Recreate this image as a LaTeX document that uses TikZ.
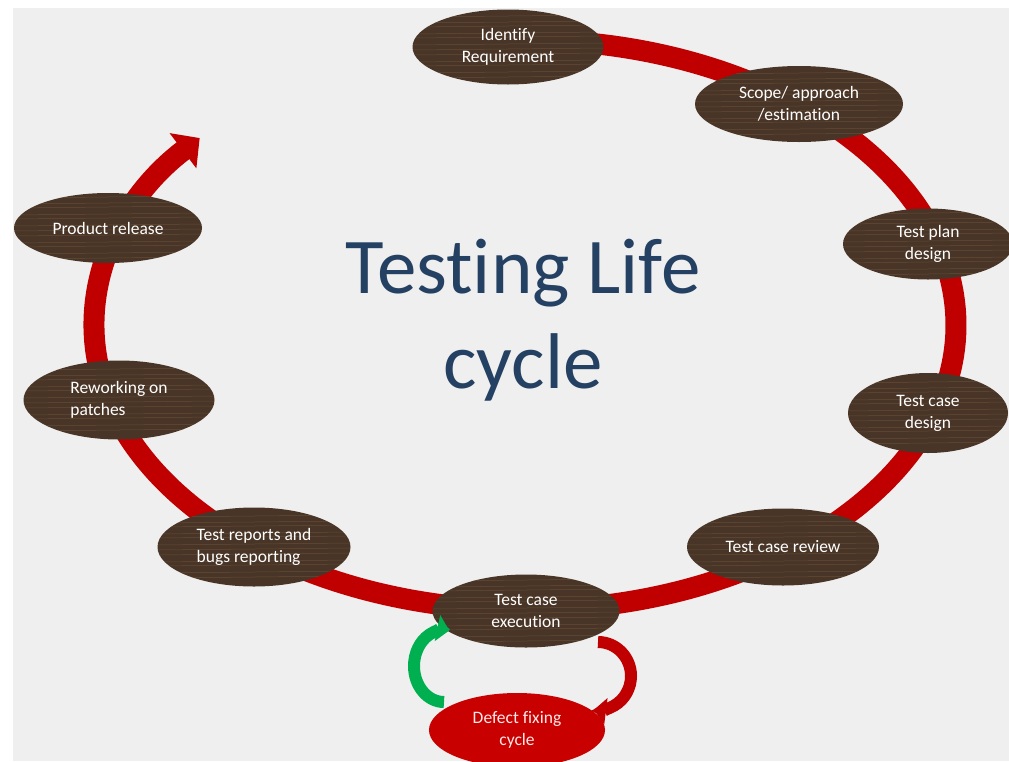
\documentclass[tikz,border=0pt]{standalone}
\usepackage{fontspec}
\setmainfont{Carlito}[Ligatures=NoCommon]
\usetikzlibrary{shapes.geometric,arrows.meta}

\definecolor{bggray}{RGB}{239,239,239}
\definecolor{ringred}{RGB}{192,0,0}
\definecolor{defectred}{RGB}{200,0,0}
\definecolor{arrowgreen}{RGB}{0,176,80}
\definecolor{titleblue}{RGB}{36,64,98}
\definecolor{woodbase}{RGB}{72,53,39}
\definecolor{woodgrain}{RGB}{130,100,64}

\begin{document}
\begin{tikzpicture}[x=1pt, y=-1pt,
    wood/.style={ellipse, fill=woodbase, text=white, align=center,
        inner sep=0pt, font=\fontsize{17.5}{22}\selectfont,
        path picture={
            \foreach \g in {-31,-26,-19,-15,-8,-3,2,9,13,20,24,30}
                \draw[woodgrain, line width=0.5pt, opacity=0.5]
                    ([yshift=\g pt]path picture bounding box.west) --
                    ([yshift=\g pt+2pt]path picture bounding box.east);
        }},
    defect/.style={ellipse, fill=defectred, text={rgb,255:red,255;green,232;blue,232},
        align=center, inner sep=0pt, font=\fontsize{17.5}{22}\selectfont},
    title/.style={text=titleblue, font=\fontsize{79}{95}\selectfont,
        anchor=base, inner sep=0pt},
    ring/.style={ringred, line width=21pt, -{Triangle[length=21pt,width=43pt]}},
    fixarrow/.style={ringred, line width=12pt, -{Triangle[length=12pt,width=26pt]}},
    backarrow/.style={fixarrow, arrowgreen}
]
    \useasboundingbox (0,0) rectangle (1009,761);
    \fill[white] (0,0) rectangle (1009,761);
    \fill[bggray] (13,8) rectangle (1009,761);

    \coordinate (ringstart) at (494.9,40.7);
    \draw[ring] (ringstart) arc[start angle=-94, end angle=221, x radius=431, y radius=285];

    \node[wood, minimum width=191pt, minimum height=75pt] (ident) at (508,47) {Identify\\Requirement};
    \node[wood, minimum width=208pt, minimum height=76pt] (scope) at (799,104) {Scope/ approach\\/estimation};
    \node[wood, minimum width=170pt, minimum height=71pt] (plan) at (928,244) {Test plan\\design};
    \node[wood, minimum width=160pt, minimum height=80pt] (design) at (928,413) {Test case\\design};
    \node[wood, minimum width=192pt, minimum height=77pt] (review) at (783,547) {Test case review};
    \node[wood, minimum width=187pt, minimum height=73pt] (exec) at (526,611) {Test case\\execution};
    \node[wood, minimum width=193pt, minimum height=79pt, align=left] (report) at (254,547) {Test reports and\\bugs reporting};
    \node[wood, minimum width=191pt, minimum height=79pt, align=left] (rework) at (119,400) {Reworking on\\patches};
    \node[wood, minimum width=188pt, minimum height=70pt] (release) at (108,228) {Product release};
    \node[defect, minimum width=176pt, minimum height=74pt] (defect) at (517,730) {Defect fixing\\cycle};

    \node[title] (titletop) at (523,293) {Testing Life};
    \node[title] (titlebot) at (523,388) {cycle};

    \coordinate (fixstart) at (598,642);
    \draw[fixarrow] (fixstart) arc[start angle=-90, end angle=97, x radius=33, y radius=34];
    \coordinate (backstart) at (444,702);
    \draw[backarrow] (backstart) arc[start angle=90, end angle=280, x radius=30, y radius=36];
\end{tikzpicture}
\end{document}
